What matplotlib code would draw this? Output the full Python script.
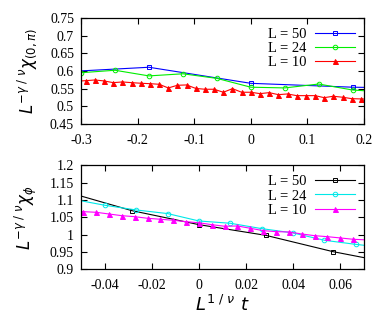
import numpy as np
import matplotlib
matplotlib.use("Agg")
import matplotlib.pyplot as plt
from matplotlib.ticker import FuncFormatter

plt.rcParams['axes.unicode_minus'] = False
plt.rcParams['mathtext.fontset'] = 'dejavusans'

# top panel: L^{-gamma/nu} chi_(0,pi)
top_x50 = [-0.36, -0.18, 0.0, 0.18, 0.36]
top_y50 = [0.595, 0.6105, 0.565, 0.554, 0.550]
top_x24 = [-0.30, -0.24, -0.18, -0.12, -0.06, 0.0, 0.06, 0.12, 0.18, 0.24]
top_y24 = [0.595, 0.602, 0.586, 0.592, 0.579, 0.554, 0.552, 0.563, 0.546, 0.540]
top_x10 = [-0.3078, -0.2916, -0.2754, -0.2592, -0.2430, -0.2268, -0.2106, -0.1944,
           -0.1782, -0.1620, -0.1458, -0.1296, -0.1134, -0.0972, -0.0810, -0.0648,
           -0.0486, -0.0324, -0.0162, 0.0, 0.0162, 0.0324, 0.0486, 0.0648, 0.0810,
           0.0972, 0.1134, 0.1296, 0.1458, 0.1620, 0.1782, 0.1944, 0.2106]
top_y10 = [0.571, 0.5725, 0.5745, 0.5717, 0.5669, 0.5689, 0.5669, 0.5652, 0.5640,
           0.5623, 0.5519, 0.5595, 0.5604, 0.5505, 0.5482, 0.5482, 0.5397, 0.5499,
           0.5397, 0.5397, 0.5358, 0.5386, 0.5329, 0.5349, 0.5301, 0.5301, 0.5301,
           0.5244, 0.5284, 0.5256, 0.5216, 0.5208, 0.520]

# bottom panel: L^{-gamma/nu} chi_phi
bot_x50 = [-0.0568, -0.0284, 0.0, 0.0284, 0.0568, 0.0852]
bot_y50 = [1.125, 1.0694, 1.029, 0.998, 0.951, 0.9136]
bot_x24 = [-0.0532, -0.0399, -0.0266, -0.0133, 0.0, 0.0133, 0.0266, 0.0399,
           0.0532, 0.0665, 0.0798]
bot_y24 = [1.102, 1.085, 1.0714, 1.061, 1.0396, 1.033, 1.0175, 1.005, 0.9838,
           0.972, 0.962]
bot_x10 = [-0.0545, -0.04905, -0.0436, -0.03815, -0.0327, -0.02725, -0.0218,
           -0.01635, -0.0109, -0.00545, 0.0, 0.00545, 0.0109, 0.01635, 0.0218,
           0.02725, 0.0327, 0.03815, 0.0436, 0.04905, 0.0545, 0.05995, 0.0654,
           0.07085]
bot_y10 = [1.067, 1.0665, 1.0647, 1.0598, 1.0549, 1.052, 1.0474, 1.0445, 1.0416,
           1.0376, 1.0344, 1.0289, 1.0243, 1.0251, 1.0185, 1.0116, 1.0087, 1.0078,
           1.0020, 0.9971, 0.9942, 0.9905, 0.9867, 0.985]

labels = ["L = 50", "L = 24", "L = 10"]
tick_font = {'family': 'Liberation Serif', 'size': 10}


def series(ax, x, y, color, marker, filled, label, xlim):
    x = np.array(x)
    y = np.array(y)
    ms = 3.6 if filled else 3.3
    ax.plot(x, y, color=color, lw=0.8)
    m = (x >= xlim[0] - 1e-9) & (x <= xlim[1] + 1e-9)
    ax.plot(x[m], y[m], ls='none', marker=marker, ms=ms, mew=0.7,
            mec=color, mfc=color if filled else 'none')
    # legend proxy
    ax.plot([], [], color=color, lw=0.8, marker=marker, ms=ms, mew=0.7,
            mec=color, mfc=color if filled else 'none', label=label)


def style(ax, xlim, ylim, xt, yt):
    ax.set_xlim(*xlim)
    ax.set_ylim(*ylim)
    ax.set_xticks(xt)
    ax.set_yticks(yt)
    fmt = FuncFormatter(lambda v, p: '%g' % round(v, 4))
    ax.xaxis.set_major_formatter(fmt)
    ax.yaxis.set_major_formatter(fmt)
    ax.tick_params(direction='in', top=True, right=True, length=4, width=0.8)
    ax.tick_params(axis='x', pad=7)
    ax.tick_params(axis='y', pad=5)
    for lab in ax.get_xticklabels() + ax.get_yticklabels():
        lab.set_fontfamily(tick_font['family'])
        lab.set_fontsize(tick_font['size'])
    for s in ax.spines.values():
        s.set_linewidth(0.9)
    leg = ax.legend(loc='upper right', frameon=False, markerfirst=False,
                    prop={'family': 'Liberation Serif', 'size': 10.5},
                    handlelength=2.7, handletextpad=0.6, labelspacing=0.08,
                    borderaxespad=0.25)
    return leg


fig = plt.figure(figsize=(3.82, 3.27), dpi=100)
ax1 = fig.add_axes([0.212, 0.621, 0.741, 0.324])
ax2 = fig.add_axes([0.212, 0.1765, 0.741, 0.3175])

xl1 = (-0.3, 0.2)
series(ax1, top_x50, top_y50, '#0000ff', 's', False, labels[0], xl1)
series(ax1, top_x24, top_y24, '#00ee00', 'o', False, labels[1], xl1)
series(ax1, top_x10, top_y10, '#ff0000', '^', True, labels[2], xl1)
style(ax1, xl1, (0.45, 0.75), [-0.3, -0.2, -0.1, 0, 0.1, 0.2],
      [0.45, 0.5, 0.55, 0.6, 0.65, 0.7, 0.75])
ax1.set_ylabel(r'$L^{-\gamma\ /\ \nu}\chi_{(0,\pi)}$', fontsize=12, labelpad=8)

xl2 = (-0.05, 0.07)
series(ax2, bot_x50, bot_y50, '#000000', 's', False, labels[0], xl2)
series(ax2, bot_x24, bot_y24, '#00e8e8', 'o', False, labels[1], xl2)
series(ax2, bot_x10, bot_y10, '#ff00ff', '^', True, labels[2], xl2)
style(ax2, xl2, (0.9, 1.2), [-0.04, -0.02, 0, 0.02, 0.04, 0.06],
      [0.9, 0.95, 1.0, 1.05, 1.1, 1.15, 1.2])
ax2.set_ylabel(r'$L^{-\gamma\ /\ \nu}\chi_{\phi}$', fontsize=12, labelpad=8)
ax2.set_xlabel(r'$L^{1\ /\ \nu}\ t$', fontsize=13, labelpad=2)

fig.savefig('out.png', dpi=100)
